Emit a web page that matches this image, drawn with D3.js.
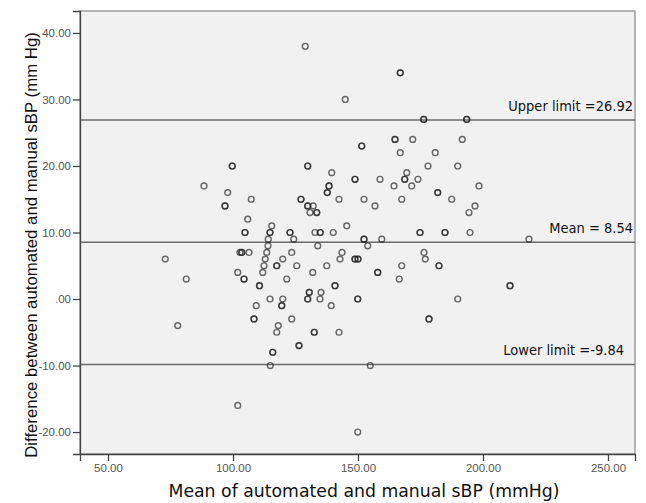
<!DOCTYPE html>
<html>
<head>
<meta charset="utf-8">
<script src="https://cdn.jsdelivr.net/npm/d3@7"></script>
<style>
  body { margin: 0; background: #fff; }
</style>
</head>
<body>
<svg id="chart" width="646" height="503"></svg>
<script>
// mean of automated and manual sBP (x) and their difference (y); ties repeated
const meanVals = [72.9, 77.9, 81.3, 88.4, 96.8, 96.8, 97.9, 99.7, 99.7, 101.9, 101.9,
  102.8, 103.5, 103.5, 104.4, 104.4, 104.8, 104.8, 105.9, 106.4, 107.3, 108.4, 108.4,
  109.3, 110.6, 110.6, 111.9, 112.4, 112.9, 113.5, 114.0, 114.1, 114.8, 114.8, 115.5,
  114.8, 114.9, 115.9, 115.9, 117.5, 117.5, 117.5, 118.1, 119.9, 119.9, 119.5, 119.5,
  121.5, 122.8, 122.8, 123.5, 123.5, 124.3, 125.5, 126.4, 126.4, 127.2, 127.2, 128.9,
  129.9, 129.9, 129.9, 129.9, 130.8, 132.1, 133.5, 133.5, 130.5, 130.5, 129.9, 129.9,
  131.9, 132.5, 132.5, 132.8, 134.9, 134.9, 133.9, 135.2, 134.8, 137.5, 137.7, 137.7,
  138.4, 138.4, 139.5, 139.3, 140.1, 140.8, 140.8, 142.4, 142.8, 143.6, 142.4, 144.9,
  145.5, 148.8, 148.8, 148.8, 148.8, 150.0, 150.0, 149.9, 149.9, 149.9, 151.5, 151.5,
  152.4, 152.4, 152.4, 153.9, 154.9, 156.8, 157.9, 157.9, 158.8, 159.5, 164.4, 164.8,
  164.8, 166.5, 166.9, 166.9, 166.9, 167.5, 167.5, 168.7, 168.7, 169.5, 171.5, 171.9,
  174.0, 174.8, 174.8, 176.3, 176.3, 176.4, 176.9, 178.0, 178.4, 178.4, 180.9, 181.9,
  181.9, 182.4, 182.4, 184.8, 184.8, 187.5, 189.9, 189.9, 191.7, 193.5, 193.5, 194.4,
  194.8, 196.8, 198.4, 210.8, 210.8, 218.4];
const diffVals = [6, -4, 3, 17, 14, 14, 16, 20, 20, 4, -16,
  7, 7, 7, 3, 3, 10, 10, 12, 7, 15, -3, -3,
  -1, 2, 2, 4, 5, 6, 7, 8, 9, 10, 10, 11,
  0, -10, -8, -8, 5, 5, -5, -4, 6, 0, -1, -1,
  3, 10, 10, 7, -3, 9, 5, -7, -7, 15, 15, 38,
  20, 20, 14, 14, 13, 14, 13, 13, 1, 1, 0, 0,
  4, -5, -5, 10, 10, 10, 8, 1, 0, 5, 16, 16,
  17, 17, 19, -1, 10, 2, 2, 15, 6, 7, -5, 30,
  11, 18, 18, 6, 6, 6, 6, 0, 0, -20, 23, 23,
  15, 9, 9, 8, -10, 14, 4, 4, 18, 9, 17, 24,
  24, 3, 34, 34, 22, 15, 5, 18, 18, 19, 17, 24,
  18, 10, 10, 27, 27, 7, 6, 20, -3, -3, 22, 16,
  16, 5, 5, 10, 10, 15, 20, 0, 24, 27, 27, 13,
  10, 14, 17, 2, 2, 9];

const yTicks = [-20, -10, 0, 10, 20, 30, 40];
const xTicks = [50, 100, 150, 200, 250];
const refNames = ["Upper limit =26.92", "Mean = 8.54", "Lower limit =-9.84"];
const refValues = [26.92, 8.54, -9.84];

const svg = d3.select("#chart");
const plotL = 80, plotR = 635, plotT = 11, plotB = 454;

const x = d3.scaleLinear().domain([38.8, 260.8]).range([plotL, plotR]);
const y = d3.scaleLinear().domain([43.3, -23.3]).range([plotT, plotB]);

// plot background + frame
svg.append("rect")
  .attr("x", plotL).attr("y", plotT)
  .attr("width", plotR - plotL).attr("height", plotB - plotT)
  .attr("fill", "#f1f1f1").attr("stroke", "#8a8a8a").attr("stroke-width", 1.2);

// reference lines
svg.selectAll(".ref")
  .data(refValues)
  .enter().append("line")
  .attr("x1", plotL).attr("x2", plotR)
  .attr("y1", d => y(d)).attr("y2", d => y(d))
  .attr("stroke", "#6a6a6a").attr("stroke-width", 1.4);

const labelEnd = [633, 633, 624];
svg.selectAll(".reflabel")
  .data(refValues)
  .enter().append("text")
  .attr("x", (d, i) => labelEnd[i])
  .attr("y", d => y(d) - 9)
  .attr("text-anchor", "end")
  .style("font", "14.5px 'DejaVu Sans Condensed', 'DejaVu Sans', sans-serif")
  .attr("fill", "#111")
  .text((d, i) => refNames[i]);

// points
const pts = meanVals.map((m, i) => [m, diffVals[i]]);
svg.append("g")
  .selectAll("circle")
  .data(pts)
  .enter().append("circle")
  .attr("cx", d => x(d[0]))
  .attr("cy", d => y(d[1]))
  .attr("r", 2.9)
  .attr("fill", "none")
  .attr("stroke", "#222")
  .attr("stroke-opacity", 0.68)
  .attr("stroke-width", 1.4);

// axes (SPSS style labels: ".00", "-10.00")
const fmt = d => d === 0 ? ".00" : d.toFixed(2);
const yAxis = svg.append("g")
  .attr("transform", "translate(" + plotL + ",0)")
  .call(d3.axisLeft(y).tickValues(yTicks).tickSize(7).tickPadding(2).tickFormat(fmt));
const xAxis = svg.append("g")
  .attr("transform", "translate(0," + plotB + ")")
  .call(d3.axisBottom(x).tickValues(xTicks).tickSize(7).tickPadding(3).tickFormat(fmt));
[yAxis, xAxis].forEach(g => {
  g.select(".domain").attr("stroke", "#444").attr("stroke-width", 1.3);
  g.selectAll(".tick line").attr("stroke", "#444").attr("stroke-width", 1.3);
  g.selectAll("text")
    .style("font", "11.5px 'Liberation Sans', Arial, sans-serif")
    .attr("fill", "#555");
});

// axis titles
svg.append("text")
  .attr("transform", "translate(37,245)rotate(-90)")
  .attr("text-anchor", "middle")
  .style("font", "16.8px 'Liberation Sans', Arial, sans-serif")
  .attr("fill", "#111")
  .text("Difference between automated and manual sBP (mm Hg)");
svg.append("text")
  .attr("x", 364).attr("y", 497)
  .attr("text-anchor", "middle")
  .style("font", "17.3px 'DejaVu Sans', Verdana, sans-serif")
  .attr("fill", "#111")
  .text("Mean of automated and manual sBP (mmHg)");
</script>
</body>
</html>
